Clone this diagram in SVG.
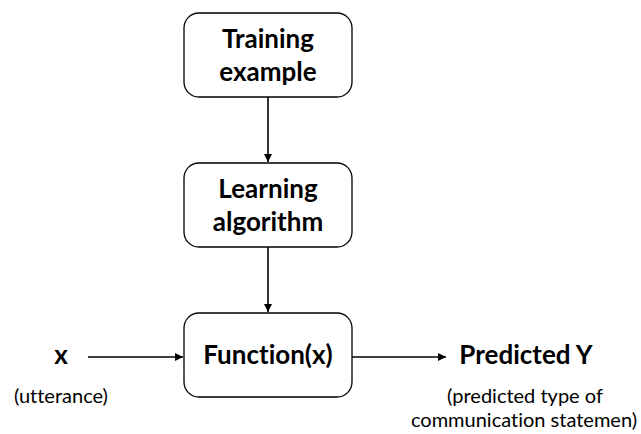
<svg xmlns="http://www.w3.org/2000/svg" width="641" height="434" viewBox="0 0 641 434">
  <style>
    .box { fill: #ffffff; stroke: #000000; stroke-width: 1.3; }
    .lbl { font-family: Lato, "Open Sans", sans-serif; font-weight: bold; font-size: 26px; fill: #000000; text-anchor: middle; font-variant-ligatures: none; }
    .note { font-family: Lato, "Open Sans", sans-serif; font-size: 20px; fill: #000000; text-anchor: middle; font-variant-ligatures: none; }
    .edge { stroke: #000000; stroke-width: 1.6; fill: none; marker-end: url(#head); }
  </style>
  <defs>
    <marker id="head" viewBox="0 0 10 10" refX="10" refY="5" markerWidth="6" markerHeight="5" orient="auto" markerUnits="strokeWidth">
      <path d="M0,0 L10,5 L0,10 z" fill="#000000"/>
    </marker>
  </defs>
  <rect width="641" height="434" fill="#ffffff"/>

  <g id="connectors">
    <line class="edge" x1="268" y1="97" x2="268" y2="162"/>
    <line class="edge" x1="268" y1="247" x2="268" y2="312"/>
    <line class="edge" x1="88" y1="357" x2="183" y2="357"/>
    <line class="edge" x1="352" y1="357" x2="446" y2="357"/>
  </g>

  <g id="training">
    <rect class="box" x="184" y="13" width="168" height="84" rx="15"/>
    <text class="lbl" x="268" y="48">Training</text>
    <text class="lbl" x="268" y="81">example</text>
  </g>

  <g id="learning">
    <rect class="box" x="184" y="163" width="168" height="84" rx="15"/>
    <text class="lbl" x="268" y="198">Learning</text>
    <text class="lbl" x="268" y="231">algorithm</text>
  </g>

  <g id="function">
    <rect class="box" x="184" y="313" width="168" height="84" rx="15"/>
    <text class="lbl" x="268" y="364">Function(x)</text>
  </g>

  <g id="input">
    <text class="lbl" x="61" y="364">x</text>
    <text class="note" x="61" y="403">(utterance)</text>
  </g>

  <g id="output">
    <text class="lbl" x="526" y="364">Predicted Y</text>
    <text class="note" x="525" y="403">(predicted type of</text>
    <text class="note" x="524" y="427">communication statemen)</text>
  </g>
</svg>
